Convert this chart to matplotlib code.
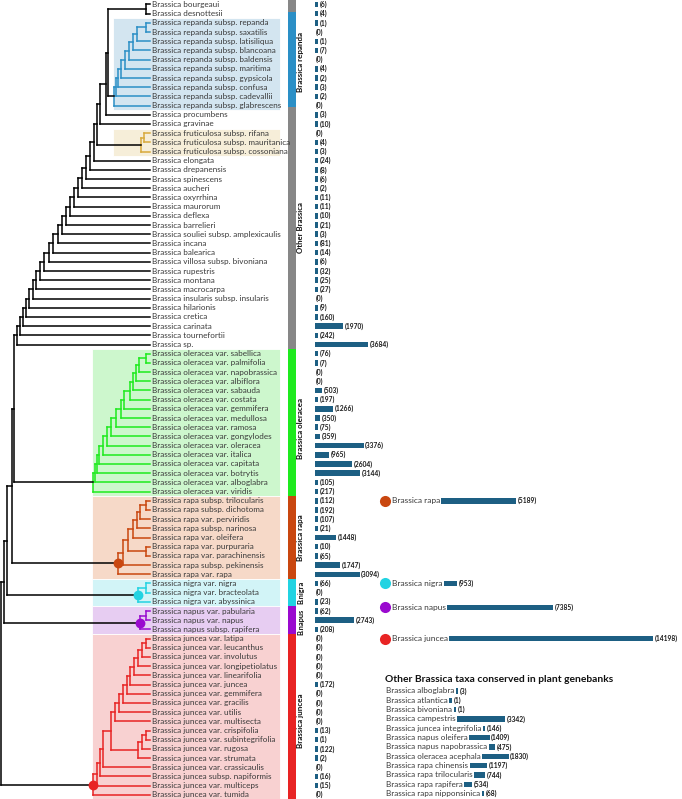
import matplotlib
matplotlib.use("Agg")
import matplotlib.pyplot as plt
import numpy as np

plt.rcParams['font.family'] = ['Lato', 'DejaVu Sans']

# ---------------- data ----------------
leaf_names = [
    "Brassica bourgeaui", "Brassica desnottesii",
    "Brassica repanda subsp. repanda", "Brassica repanda subsp. saxatilis",
    "Brassica repanda subsp. latisiliqua", "Brassica repanda subsp. blancoana",
    "Brassica repanda subsp. baldensis", "Brassica repanda subsp. maritima",
    "Brassica repanda subsp. gypsicola", "Brassica repanda subsp. confusa",
    "Brassica repanda subsp. cadevallii", "Brassica repanda subsp. glabrescens",
    "Brassica procumbens", "Brassica gravinae",
    "Brassica fruticulosa subsp. rifana", "Brassica fruticulosa subsp. mauritanica",
    "Brassica fruticulosa subsp. cossoniana",
    "Brassica elongata", "Brassica drepanensis", "Brassica spinescens", "Brassica aucheri",
    "Brassica oxyrrhina", "Brassica maurorum", "Brassica deflexa", "Brassica barrelieri",
    "Brassica souliei subsp. amplexicaulis", "Brassica incana", "Brassica balearica",
    "Brassica villosa subsp. bivoniana", "Brassica rupestris", "Brassica montana",
    "Brassica macrocarpa", "Brassica insularis subsp. insularis", "Brassica hilarionis",
    "Brassica cretica", "Brassica carinata", "Brassica tournefortii", "Brassica sp.",
    "Brassica oleracea var. sabellica", "Brassica oleracea var. palmifolia",
    "Brassica oleracea var. napobrassica", "Brassica oleracea var. albiflora",
    "Brassica oleracea var. sabauda", "Brassica oleracea var. costata",
    "Brassica oleracea var. gemmifera", "Brassica oleracea var. medullosa",
    "Brassica oleracea var. ramosa", "Brassica oleracea var. gongylodes",
    "Brassica oleracea var. oleracea", "Brassica oleracea var. italica",
    "Brassica oleracea var. capitata", "Brassica oleracea var. botrytis",
    "Brassica oleracea var. alboglabra", "Brassica oleracea var. viridis",
    "Brassica rapa subsp. trilocularis", "Brassica rapa subsp. dichotoma",
    "Brassica rapa var. perviridis", "Brassica rapa subsp. narinosa",
    "Brassica rapa var. oleifera", "Brassica rapa var. purpuraria",
    "Brassica rapa var. parachinensis", "Brassica rapa subsp. pekinensis",
    "Brassica rapa var. rapa",
    "Brassica nigra var. nigra", "Brassica nigra var. bracteolata", "Brassica nigra var. abyssinica",
    "Brassica napus var. pabularia", "Brassica napus var. napus", "Brassica napus subsp. rapifera",
    "Brassica juncea var. latipa", "Brassica juncea var. leucanthus", "Brassica juncea var. involutus",
    "Brassica juncea var. longipetiolatus", "Brassica juncea var. linearifolia",
    "Brassica juncea var. juncea", "Brassica juncea var. gemmifera", "Brassica juncea var. gracilis",
    "Brassica juncea var. utilis", "Brassica juncea var. multisecta", "Brassica juncea var. crispifolia",
    "Brassica juncea var. subintegrifolia", "Brassica juncea var. rugosa", "Brassica juncea var. strumata",
    "Brassica juncea var. crassicaulis", "Brassica juncea subsp. napiformis",
    "Brassica juncea var. multiceps", "Brassica juncea var. tumida",
]
leaf_counts = [6, 4, 1, 0, 1, 7, 0, 4, 2, 3, 2, 0, 3, 10, 0, 4, 3,
               24, 8, 6, 2, 11, 11, 10, 21, 3, 81, 14, 6, 32, 25, 27, 0, 9, 160, 1970, 242, 3684,
               76, 7, 0, 0, 503, 197, 1266, 350, 75, 359, 3376, 965, 2604, 3144, 105, 217,
               112, 192, 107, 21, 1448, 10, 65, 1747, 3094,
               66, 0, 23,
               62, 2743, 208,
               0, 0, 0, 0, 0, 172, 0, 0, 0, 0, 13, 1, 122, 2, 0, 16, 15, 0]

group_labels = ["Other Brassica", "Brassica repanda", "Brassica oleracea", "Brassica rapa",
                "B.nigra", "B.napus", "Brassica juncea"]
group_first = [0, 2, 38, 54, 63, 66, 69]
group_last = [37, 11, 53, 62, 65, 68, 86]

summary_names = ["Brassica rapa", "Brassica nigra", "Brassica napus", "Brassica juncea"]
summary_counts = [5189, 953, 7385, 14198]

other_title = "Other Brassica taxa conserved in plant genebanks"
other_names = ["Brassica alboglabra", "Brassica atlantica", "Brassica bivoniana",
               "Brassica campestris", "Brassica juncea integrifolia", "Brassica napus oleifera",
               "Brassica napus napobrassica", "Brassica oleracea acephala", "Brassica rapa chinensis",
               "Brassica rapa trilocularis", "Brassica rapa rapifera", "Brassica rapa nipponsinica"]
other_counts = [3, 1, 1, 3342, 146, 1409, 475, 1830, 1197, 744, 534, 68]

# ---------------- colours ----------------
C_GRAY = "#878787"
C_REP, C_REP_BG = "#2b8fc6", "#d3e5f0"
C_FRU, C_FRU_BG = "#d8aa3c", "#f6eed9"
C_OLE, C_OLE_BG = "#1eea1e", "#cdf7cd"
C_RAP, C_RAP_BG = "#c94710", "#f6d9c8"
C_NIG, C_NIG_BG = "#22d3e2", "#d2f4f7"
C_NAP, C_NAP_BG = "#9a0acf", "#e7cdf2"
C_JUN, C_JUN_BG = "#e82424", "#f8d1d1"
C_BAR = "#1d5f83"
TXT = "#3a3a3a"
band_colors = [C_GRAY, C_REP, C_OLE, C_RAP, C_NIG, C_NAP, C_JUN]

# ---------------- tree (node = [x, child_a, child_b, colour]) ----------------
def N(x, a, b, c=None):
    return [x, a, b, c]

def ladder(node, steps):
    for x, leaf in steps:
        node = N(x, node, leaf)
    return node

bour = N(146, 0, 1)
rep = ladder(N(146, 2, 3), [(137, 4), (133, 5), (129, 6), (124.5, 7), (121, 8),
                            (118, 9), (116, 10), (114, 11)])
rep[3] = C_REP
t = N(108, bour, rep)
t = N(105.5, t, 12)
t = N(100, t, 13)
fru = ladder(N(144, 14, 15), [(140.5, 16)])
fru[3] = C_FRU
t = N(97, t, fru)
other = ladder(t, [(94, 17), (90, 18), (86, 19), (82, 20), (78, 21), (74, 22), (70, 23),
                   (66, 24), (62, 25), (58, 26), (53, 27), (49, 28), (44, 29), (39.5, 30),
                   (36, 31), (32.5, 32), (29, 33), (26, 34), (22.5, 35), (19.5, 36), (16.5, 37)])
ole = ladder(N(145.7, 38, 39), [(139, 40), (135.7, 41), (133, 42), (130, 43), (124, 44),
                                (121, 45), (116, 46), (111, 47), (106.7, 48), (103, 49),
                                (99, 50), (96.7, 51), (95, 52), (92.7, 53)])
ole[3] = C_OLE
rap = ladder(N(128.3, ladder(N(145.7, 54, 55), [(140, 56), (136.7, 57), (133.3, 58)]),
               N(145.7, 59, 60)), [(123.3, 61), (118, 62)])
rap[3] = C_RAP
nig = ladder(N(145.7, 63, 64), [(138, 65)])
nig[3] = C_NIG
nap = ladder(N(145.7, 66, 67), [(140, 68)])
nap[3] = C_NAP
j1 = ladder(N(145.7, 69, 70), [(141.7, 71), (138.3, 72), (134, 73), (130, 74), (126.7, 75),
                               (123.3, 76), (119, 77), (115, 78)])
j2 = ladder(N(145.7, 79, 80), [(141.7, 81), (138.3, 82)])
jun = ladder(N(111, j1, j2), [(103, 83), (100, 84), (96.7, 85), (93.3, 86)])
jun[3] = C_JUN
r4 = N(14, other, ole)
r3 = N(11.5, r4, rap)
r2 = N(7, r3, nig)
r1 = N(4, r2, nap)
root = N(1.2, r1, jun)

# ---------------- figure ----------------
W, H = 682, 799
fig = plt.figure(figsize=(W / 100, H / 100), dpi=100)
ax = fig.add_axes([0, 0, 1, 1])
PX0, PXS = 4.5, 9.19           # pixel position of row 0 / row pitch
ax.set_xlim(0, W)
ax.set_ylim((H - PX0) / PXS, -PX0 / PXS)
ax.axis('off')

LEAF_X = 150
LW = 1.1
node_y = {}

def draw(node, inherited):
    if isinstance(node, int):
        return float(node)
    x, a, b, c = node
    col = c if c else inherited
    ys = []
    for ch in (a, b):
        y = draw(ch, col)
        xe = LEAF_X if isinstance(ch, int) else ch[0]
        ax.plot([x, xe], [y, y], color=col, lw=LW, solid_capstyle='projecting', zorder=3)
        ys.append(y)
    ax.plot([x, x], ys, color=col, lw=LW, solid_capstyle='projecting', zorder=3)
    y = (ys[0] + ys[1]) / 2
    node_y[id(node)] = y
    return y

# background boxes behind clades
boxes = [(113, 2, 11, C_REP_BG), (113, 14, 16, C_FRU_BG), (91.7, 38, 53, C_OLE_BG),
         (91.7, 54, 62, C_RAP_BG), (91.7, 63, 65, C_NIG_BG), (91.7, 66, 68, C_NAP_BG),
         (91.7, 69, 86.6, C_JUN_BG)]
for x0, r0, r1_, colr in boxes:
    ax.add_patch(plt.Rectangle((x0, r0 - 0.5), 280 - x0, r1_ - r0 + 1, facecolor=colr,
                               edgecolor='white', lw=0.6, zorder=1))

draw(root, 'black')

for clade, colr in [(rap, C_RAP), (nig, C_NIG), (nap, C_NAP), (jun, C_JUN)]:
    ax.scatter([clade[0]], [node_y[id(clade)]], s=50, color=colr, zorder=5, linewidths=0)

for i, name in enumerate(leaf_names):
    ax.text(152, i, name, fontsize=5.9, va='center', ha='left', color=TXT, zorder=4)

# coloured band
band_x, band_w = 288.3, 7.7
ax.add_patch(plt.Rectangle((band_x, -1), band_w, 37.5 + 1, facecolor=C_GRAY, lw=0, zorder=2))
band_spans = [None, (0.78, 11.2), (37.5, 53.5), (53.5, 62.5), (62.5, 65.5), (65.5, 68.5), (68.5, 88)]
for k in range(1, len(group_labels)):
    s0, s1 = band_spans[k]
    ax.add_patch(plt.Rectangle((band_x, s0), band_w, s1 - s0, facecolor=band_colors[k],
                               lw=0, zorder=2))
label_rows = [24.3, 6.3, 46.1, 58.0, 64.0, 67.2, 77.9]
label_sizes = [5.6, 5.8, 5.8, 5.8, 5.3, 5.3, 5.8]
for k, lab in enumerate(group_labels):
    ax.text(300.5, label_rows[k], lab, rotation=90, fontsize=label_sizes[k], fontweight='bold',
            ha='center', va='center', color='#111111')

# ---------------- bars ----------------
BAR_X0 = 315
SCALE = 69.5   # counts per pixel
axb = fig.add_axes([BAR_X0 / W, 0, 1 - BAR_X0 / W, 1])
axb.set_xlim(0, (W - BAR_X0) * SCALE)
axb.set_ylim(ax.get_ylim())
axb.axis('off')
MINW = 2.6 * SCALE
BH = 0.6

counts = np.array(leaf_counts, dtype=float)
rows = np.arange(len(leaf_counts))
vis = np.where(counts > 0, np.maximum(counts, MINW), 0)
axb.barh(rows, vis, height=BH, left=0, color=C_BAR, lw=0)
for r, c, v in zip(rows, leaf_counts, vis):
    axb.annotate(f"({c})", xy=(v, r), xytext=(1.2 if c > 0 else 0.4, 0), textcoords='offset points',
                 fontsize=4.8, fontweight='bold', va='center', ha='left', color='#1a1a1a')

fig.canvas.draw()
renderer = fig.canvas.get_renderer()
inv = axb.transData.inverted()

def bar_after_text(txt, row, value, gap_px=1.5):
    bb = txt.get_window_extent(renderer)
    x0 = inv.transform((bb.x1 + gap_px, 0))[0]
    v = max(value, MINW)
    axb.barh([row], [v], left=x0, height=BH, color=C_BAR, lw=0)
    axb.annotate(f"({value})", xy=(x0 + v, row), xytext=(1.2, 0), textcoords='offset points',
                 fontsize=4.8, fontweight='bold', va='center', ha='left', color='#1a1a1a')

# species summary
summary_rows = [54, 63, 65.6, 69]
summary_colors = [C_RAP, C_NIG, C_NAP, C_JUN]
for nm, c, r, colr in zip(summary_names, summary_counts, summary_rows, summary_colors):
    ax.scatter([385], [r], s=64, color=colr, linewidths=0, zorder=5)
    t_ = ax.text(391.5, r, nm, fontsize=6.0, va='center', ha='left', color=TXT)
    bar_after_text(t_, r, c)

# other taxa
ax.text(385, 73.5, other_title, fontsize=7.4, fontweight='bold', va='center', ha='left',
        color='#111111')
for k, (nm, c) in enumerate(zip(other_names, other_counts)):
    r = 74.7 + k * 1.015
    t_ = ax.text(386, r, nm, fontsize=5.9, va='center', ha='left', color=TXT)
    bar_after_text(t_, r, c)

fig.savefig("out.png", dpi=100)
